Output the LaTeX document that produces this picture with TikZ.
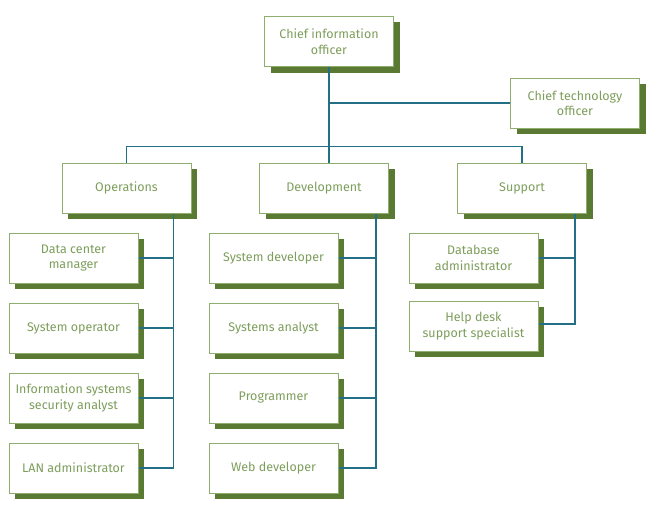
\documentclass[tikz,border=0pt]{standalone}
\usepackage{fontspec}
\setmainfont{Fira Sans}
\usetikzlibrary{positioning,shadows}
\definecolor{boxline}{HTML}{8FAE6E}
\definecolor{boxtext}{HTML}{7E9E5C}
\definecolor{shade}{HTML}{5A7A34}
\definecolor{wire}{HTML}{236F86}
\begin{document}
\begin{tikzpicture}[x=1pt,y=-1pt]
% define box types
\tikzstyle{role}=[draw=boxline, line width=1pt, rectangle, fill=white, text=boxtext,
    minimum width=129pt, minimum height=50pt, inner sep=1pt, align=center,
    font=\fontsize{12.5}{15.5}\selectfont,
    copy shadow={draw=none, fill=shade, shadow xshift=6pt, shadow yshift=-6pt}]
\tikzstyle{a}=[wire, line width=1.3pt]
\useasboundingbox (0,0) rectangle (658,511);
% top
\node[role] (cio) at (329,41.5) {Chief information\\officer};
\node[role] (cto) at (575,103) {Chief technology\\officer};
% departments
\node[role] (ops) at (126.5,188) {Operations};
\node[role] (dev) at (324,188) {Development};
\node[role] (sup) at (522,188) {Support};
% operations staff
\node[role] (dcm) at (73.5,258) {Data center\\manager};
\node[role] (sysop) at (73.5,328) {System operator};
\node[role] (isa) at (73.5,398) {Information systems\\security analyst};
\node[role] (lan) at (73.5,468) {LAN administrator};
% development staff
\node[role] (sysdev) at (273.5,258) {System developer};
\node[role] (sysan) at (273.5,328) {Systems analyst};
\node[role] (prog) at (273.5,398) {Programmer};
\node[role] (web) at (273.5,468) {Web developer};
% support staff
\node[role] (dba) at (473.5,258) {Database\\administrator};
\node[role] (help) at (473.5,326) {Help desk\\support specialist};
% buses
\coordinate (opsbus) at ([xshift=-18pt]ops.south east);
\coordinate (devbus) at ([xshift=-13pt]dev.south east);
\coordinate (supbus) at ([xshift=-12pt]sup.south east);
% first layer
\draw[a] (cio.south) -- (cio.south |- dev.north);
\draw[a] (cto.west) -- (cto.west -| cio.south);
\draw[a] (ops.north) -- ++(0,-16) -| (sup.north);
% second layer
\draw[a] (opsbus) |- (lan.east);
\draw[a] (dcm.east) -- (dcm.east -| opsbus);
\draw[a] (sysop.east) -- (sysop.east -| opsbus);
\draw[a] (isa.east) -- (isa.east -| opsbus);
\draw[a] (devbus) |- (web.east);
\draw[a] (sysdev.east) -- (sysdev.east -| devbus);
\draw[a] (sysan.east) -- (sysan.east -| devbus);
\draw[a] (prog.east) -- (prog.east -| devbus);
\draw[a] (supbus) |- ([yshift=2pt]help.east);
\draw[a] (dba.east) -- (dba.east -| supbus);
\end{tikzpicture}
\end{document}
